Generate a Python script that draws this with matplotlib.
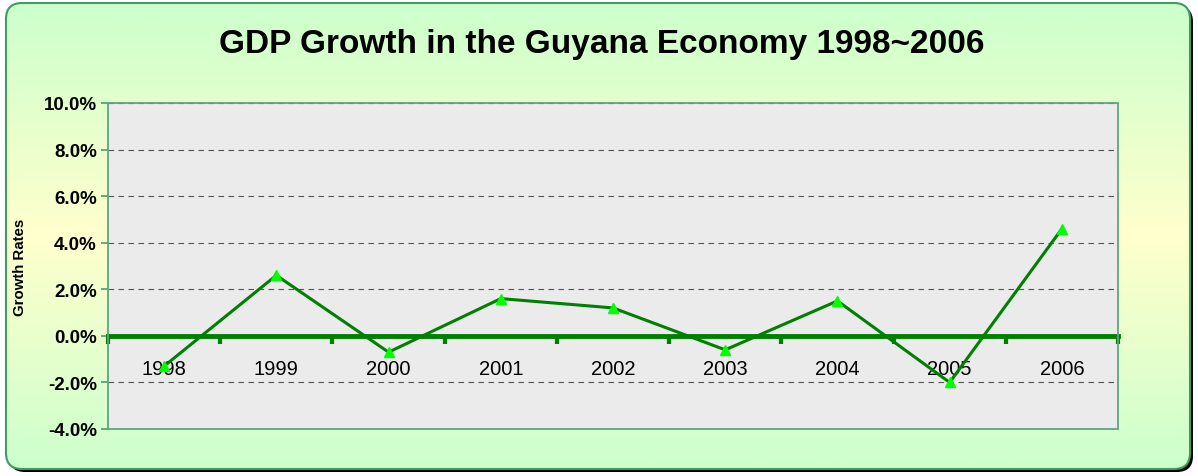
import numpy as np
import matplotlib
matplotlib.use("Agg")
from matplotlib import pyplot as plt
from matplotlib.patches import FancyBboxPatch, Rectangle
from matplotlib.colors import LinearSegmentedColormap
from matplotlib.ticker import FuncFormatter

# Donnees
years = ["1998", "1999", "2000", "2001", "2002", "2003", "2004", "2005", "2006"]
growth = [-1.3, 2.6, -0.7, 1.6, 1.2, -0.6, 1.5, -2.0, 4.6]
y_ticks = [-4, -2, 0, 2, 4, 6, 8, 10]

plt.rcParams["font.family"] = ["Liberation Sans", "DejaVu Sans"]

W, H = 1198, 477
fig = plt.figure(figsize=(W / 100, H / 100), dpi=100)

# Fond : cadre arrondi avec degrade vert / jaune
bg = fig.add_axes([0, 0, 1, 1])
bg.set_xlim(0, W)
bg.set_ylim(H, 0)
bg.axis("off")

shadow = FancyBboxPatch((9, 7), W - 14, H - 11, boxstyle="round,pad=0,rounding_size=16",
                        fc="black", ec="none", zorder=1)
bg.add_patch(shadow)
frame = FancyBboxPatch((6, 4), W - 14, H - 11, boxstyle="round,pad=0,rounding_size=16",
                       fc="none", ec="#3f9a63", lw=1.5, zorder=3)
bg.add_patch(frame)

cmap = LinearSegmentedColormap.from_list(
    "fond", [(0, "#ccffcc"), (0.5, "#ffffcc"), (1, "#ccffcc")])
grad = np.linspace(0, 1, 256).reshape(-1, 1)
im = bg.imshow(grad, cmap=cmap, aspect="auto", extent=[6, W - 8, H - 7, 4], zorder=2)
im.set_clip_path(frame)

fig.text(602 / W, 1 - 45 / H, "GDP Growth in the Guyana Economy 1998~2006",
         ha="center", va="center", fontsize=24, fontweight="bold")

# Zone de trace
ax = fig.add_axes([108 / W, 1 - 430 / H, 1010 / W, 326 / H])
ax.set_facecolor("#ebebeb")
x = np.arange(len(years))
ax.plot(x, growth, color="#008000", lw=2.2, marker="^", ms=7,
        mfc="#00ff00", mec="#00ff00", zorder=5)

ax.set_xlim(-0.5, len(years) - 0.5)
ax.set_ylim(y_ticks[0], y_ticks[-1])
ax.set_yticks(y_ticks)
ax.yaxis.set_major_formatter(FuncFormatter(lambda v, p: f"{v:.1f}%"))
for lab in ax.get_yticklabels():
    lab.set_fontweight("bold")
ax.tick_params(axis="y", labelsize=13.5, colors="#4f9a72", length=5, width=1.2, pad=3,
               labelcolor="black")

ax.grid(axis="y", color="#555555", ls=(0, (5, 4)), lw=0.8)
ax.set_axisbelow(True)

# Axe des x sur la ligne 0
for s in ["left", "top", "right"]:
    ax.spines[s].set_visible(False)
ax.spines["bottom"].set_position(("data", 0))
ax.spines["bottom"].set_color("#008000")
ax.spines["bottom"].set_linewidth(3.5)
ax.spines["bottom"].set_zorder(4)
ax.set_xticks(np.arange(len(years) + 1) - 0.5)
ax.set_xticklabels([])
ax.set_xticks(x, minor=True)
ax.set_xticklabels(years, minor=True, fontsize=14.5)
ax.tick_params(axis="x", which="major", colors="#008000", length=6, width=3, direction="out")
ax.tick_params(axis="x", which="minor", length=0, pad=17)

ax.add_patch(Rectangle((0, 0), 1, 1, transform=ax.transAxes, fill=False,
                       ec="#5fa384", lw=1.3, zorder=6, clip_on=False))

ax.set_ylabel("Growth Rates", fontsize=10.8, fontweight="bold")
ax.yaxis.set_label_coords(-0.080, 0.5)

fig.savefig("out.png", dpi=100)
